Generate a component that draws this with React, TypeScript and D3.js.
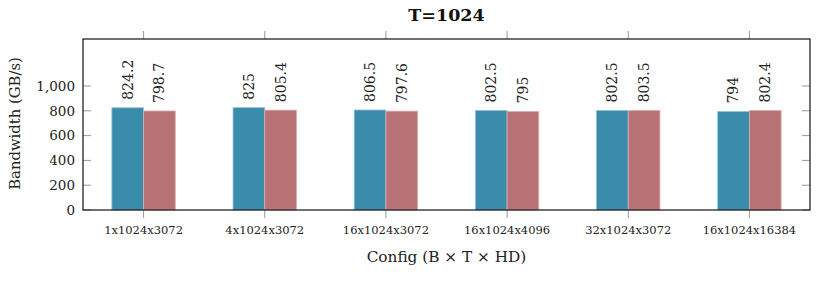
import React from "react";
import * as d3 from "d3";

const categories = ["1x1024x3072", "4x1024x3072", "16x1024x3072", "16x1024x4096", "32x1024x3072", "16x1024x16384"];
const seriesA = [824.2, 825, 806.5, 802.5, 802.5, 794];
const seriesB = [798.7, 805.4, 797.6, 795, 803.5, 802.4];
const yTicks = [0, 200, 400, 600, 800, 1000];
const title = "T=1024";
const xLabel = "Config (B × T × HD)";
const yLabel = "Bandwidth (GB/s)";

const W = 817, H = 295;
const L = 83, R = 810, T = 39, B = 210;
const colA = "#3a8cac";
const colB = "#b87174";
const font = "DejaVu Serif";

export default function App() {
  const x = d3.scalePoint<string>().domain(categories).range([L, R]).padding(0.5);
  const y = d3.scaleLinear().domain([0, 1379]).range([B, T]);
  const bw = 31.7;
  const fmt = d3.format(",");
  const series = [
    { vals: seriesA, col: colA, stroke: "#8ec1d3", off: -bw },
    { vals: seriesB, col: colB, stroke: "#dcb0b2", off: 0 },
  ];
  const ts = { fontFamily: font };
  return (
    <svg width={W} height={H} style={{ position: "absolute", left: 0, top: 0, background: "#fff", fontFamily: font }}>
      <rect x={0} y={0} width={W} height={H} fill="#fff" />
      {series.map((s, si) =>
        categories.map((c, i) => (
          <rect key={`${si}-${i}`} x={(x(c) as number) + s.off} y={y(s.vals[i])} width={bw} height={B - y(s.vals[i])}
            fill={s.col} stroke={s.stroke} strokeWidth={0.8} />
        ))
      )}
      {series.map((s, si) =>
        categories.map((c, i) => {
          const cx = (x(c) as number) + s.off + bw / 2;
          const ty = y(s.vals[i]) - 8;
          return (
            <text key={`l${si}-${i}`} style={ts} transform={`translate(${cx},${ty}) rotate(-90)`} dy="0.35em" fontSize={14} fill="#222">
              {String(s.vals[i])}
            </text>
          );
        })
      )}
      {yTicks.map((t) => (
        <g key={t}>
          <line x1={L} x2={L + 8} y1={y(t)} y2={y(t)} stroke="#999" strokeWidth={1} />
          <line x1={R - 8} x2={R} y1={y(t)} y2={y(t)} stroke="#999" strokeWidth={1} />
          <text style={ts} x={75} y={y(t)} dy="0.35em" textAnchor="end" fontSize={13.5} fill="#222">{fmt(t)}</text>
        </g>
      ))}
      {categories.map((c) => (
        <g key={c}>
          <line x1={x(c)} x2={x(c)} y1={B} y2={B + 8} stroke="#999" strokeWidth={1} />
          <line x1={x(c)} x2={x(c)} y1={T - 8} y2={T} stroke="#999" strokeWidth={1} />
          <text style={ts} x={x(c)} y={234} textAnchor="middle" fontSize={11.5} fill="#222">{c}</text>
        </g>
      ))}
      <rect x={L} y={T} width={R - L} height={B - T} fill="none" stroke="#111" strokeWidth={1.2} />
      <text style={ts} x={(L + R) / 2} y={21} textAnchor="middle" fontSize={17.5} fontWeight="bold" fill="#111">{title}</text>
      <text style={ts} x={(L + R) / 2} y={262} textAnchor="middle" fontSize={15.3} fill="#222">{xLabel}</text>
      <text style={ts} transform={`translate(20,${(T + B) / 2 - 1}) rotate(-90)`} textAnchor="middle" fontSize={14.8} fill="#222">{yLabel}</text>
    </svg>
  );
}
